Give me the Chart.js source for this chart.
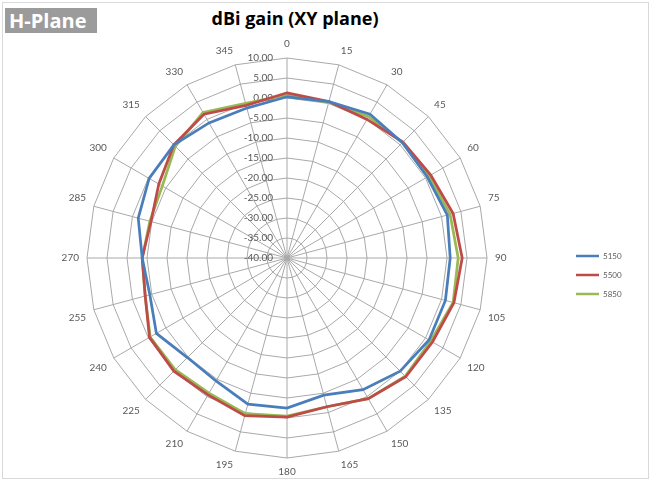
<!DOCTYPE html>
<html>
<head>
<meta charset="utf-8">
<script src="https://cdn.jsdelivr.net/npm/chart.js@4.4.1/dist/chart.umd.min.js"></script>
<style>
  body { margin: 0; background: #fff; }
  #wrap { position: relative; width: 651px; height: 481px; overflow: hidden; }
  #frame { position: absolute; left: 2px; top: 2px; width: 645px; height: 475px; border: 1px solid #d9d9d9; }
  #tag { position: absolute; left: 5px; top: 8px; width: 92px; height: 25px; background: #9b9b9b; color: #fff;
         font: bold 20px "Open Sans"; line-height: 25px; padding-left: 4px; box-sizing: border-box; }
  #title { position: absolute; left: 0; width: 590px; top: 6px; text-align: center; font: bold 18px "Open Sans"; color: #000; }
  canvas { position: absolute; left: 0; top: 0; }
</style>
</head>
<body>
<div id="wrap">
  <div id="frame"></div>
  <div id="tag">H-Plane</div>
  <div id="title">dBi gain (XY plane)</div>
  <canvas id="radar" width="651" height="481"></canvas>
</div>
<script>
// angles around the plane
const angles = ['0', '15', '30', '45', '60', '75', '90', '105', '120', '135', '150', '165',
                '180', '195', '210', '225', '240', '255', '270', '285', '300', '315', '330', '345'];

// gain in dBi
const gain5150 = [0.3, 0.5, 1.5, 0.8, 0.5, 1.5, 0.8, 1.0, 1.0, 0.0, -2.0, -4.5,
                  -2.5, -2.2, -4.5, -4.8, -2.3, -4.5, -3.8, -1.5, -0.2, 0.0, -1.0, -1.2];
const gain5500 = [1.3, 0.5, 0.0, 1.0, 1.5, 3.0, 3.8, 3.2, 2.0, 2.0, 0.6, -1.5,
                  -0.2, 0.8, -0.5, 0.0, -0.3, -3.3, -3.8, -4.8, -3.0, 0.0, 1.5, -0.5];
const gain5850 = [0.8, 0.3, 0.8, 0.8, 1.0, 2.2, 2.8, 3.0, 1.5, 1.8, 0.6, -1.5,
                  -0.5, 0.3, -1.0, -0.5, -0.5, -3.3, -3.8, -4.5, -4.0, -0.5, 2.0, 0.0];

const seriesNames = ['5150', '5500', '5850'];
const seriesColors = ['#4a7ebb', '#be4b48', '#98b954'];

// radial tick values
const gainMin = -40;
const gainMax = 10;
const gainStep = 5;

// tick labels drawn left of the vertical axis, like Excel does
const tickLabels = {
    id: 'tickLabels',
    beforeDatasetsDraw(chart) {
        const scale = chart.scales.r;
        const ctx = chart.ctx;
        ctx.save();
        ctx.font = '10px Lato';
        ctx.fillStyle = '#595959';
        ctx.textAlign = 'right';
        ctx.textBaseline = 'middle';
        for (let v = gainMin; v <= gainMax; v += gainStep) {
            const d = scale.getDistanceFromCenterForValue(v);
            ctx.fillText(v.toFixed(2), scale.xCenter - 14, scale.yCenter - d);
        }
        ctx.restore();
    }
};

// small legend on the right
const sideLegend = {
    id: 'sideLegend',
    afterDraw(chart) {
        const ctx = chart.ctx;
        ctx.save();
        ctx.font = '8px Lato';
        ctx.fillStyle = '#595959';
        ctx.textBaseline = 'middle';
        chart.data.datasets.forEach(function(ds, i) {
            const y = 256 + i * 19;
            ctx.strokeStyle = ds.borderColor;
            ctx.lineWidth = 2.5;
            ctx.beginPath();
            ctx.moveTo(576, y);
            ctx.lineTo(599, y);
            ctx.stroke();
            ctx.fillText(ds.label, 603, y);
        });
        ctx.restore();
    }
};

const ctx = document.getElementById('radar').getContext('2d');
const chart = new Chart(ctx, {
    type: 'radar',
    data: {
        labels: angles,
        datasets: [gain5150, gain5500, gain5850].map(function(vals, i) {
            return {
                label: seriesNames[i],
                data: vals,
                borderColor: seriesColors[i],
                backgroundColor: seriesColors[i],
                borderWidth: 2.75,
                pointRadius: 0,
                fill: false,
                tension: 0
            };
        })
    },
    options: {
        responsive: false,
        animation: false,
        layout: { padding: { left: 40, right: 117, top: 38, bottom: 3 } },
        plugins: {
            legend: { display: false },
            title: { display: false },
            tooltip: { enabled: false }
        },
        scales: {
            r: {
                min: gainMin,
                max: gainMax,
                ticks: { stepSize: gainStep, display: false },
                grid: { color: '#a9a9a9', lineWidth: 1 },
                angleLines: { color: '#a9a9a9', lineWidth: 1 },
                pointLabels: {
                    padding: 8,
                    color: '#595959',
                    font: { family: 'Lato', size: 10 }
                }
            }
        }
    },
    plugins: [tickLabels, sideLegend]
});
</script>
</body>
</html>
